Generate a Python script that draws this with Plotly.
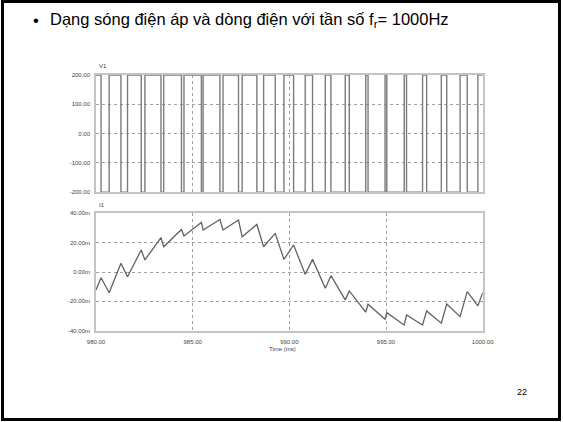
import plotly.graph_objects as go

# Switching instants of the inverter output voltage V1 (ms); level starts at +200 V
t_switch_ms = [980.26, 980.68, 981.29, 981.63, 982.34, 982.53, 983.36, 983.50,
               984.42, 984.55, 985.45, 985.54, 986.41, 986.57, 987.37, 987.56,
               988.32, 988.67, 989.27, 989.72, 990.22, 990.82, 991.20, 991.86,
               992.15, 992.89, 993.10, 993.95, 994.07, 994.95, 995.04, 995.94,
               996.06, 996.89, 997.10, 997.86, 998.14, 998.83, 999.20, 999.75]
v_high = 200.0
v_low = -200.0

# Load current I1 (mA) at the start, at each switching instant, and at the end
i1_ma = [-12.2, -3.9, -14.1, 5.9, -3.2, 15.0, 8.2, 23.4, 17.2, 29.0, 24.5,
         33.8, 28.6, 35.8, 28.6, 35.4, 24.0, 32.4, 17.2, 26.3, 8.6, 18.4,
         -1.6, 8.6, -11.1, -2.5, -19.0, -12.9, -27.4, -22.0, -32.2, -27.7,
         -36.1, -29.3, -36.1, -26.5, -34.9, -21.8, -30.4, -13.4, -23.1, -14.1]

t_start, t_end = 980.0, 1000.0
x_ticks = [980, 985, 990, 995, 1000]
x_ticktext = ["980.00", "985.00", "990.00", "995.00", "1000.00"]
v_ticks = [200, 100, 0, -100, -200]
v_ticktext = ["200.00", "100.00", "0.00", "-100.00", "-200.00"]
i_ticks = [40, 20, 0, -20, -40]
i_ticktext = ["40.00m", "20.00m", "0.00m", "-20.00m", "-40.00m"]

W, H = 563, 422


def px(x):
    return x / W


def py(y):
    return 1 - y / H


# Step waveform for the voltage
t_v = [t_start] + t_switch_ms + [t_end]
v_vals = [v_high]
level = v_high
for _ in t_switch_ms:
    level = v_low if level == v_high else v_high
    v_vals.append(level)
v_vals.append(level)

t_i = [t_start] + t_switch_ms + [t_end]

fig = go.Figure()
fig.add_trace(go.Scatter(x=t_v, y=v_vals, mode="lines", line_shape="hv",
                         line=dict(color="#7c7c7c", width=1.4),
                         xaxis="x", yaxis="y", showlegend=False))
fig.add_trace(go.Scatter(x=t_i, y=i1_ma, mode="lines",
                         line=dict(color="#626262", width=1.3),
                         xaxis="x2", yaxis="y2", showlegend=False))

axis_common = dict(showline=True, mirror=True, linecolor="#c4c4c4", linewidth=1.5,
                   showgrid=True, gridcolor="#a0a0a0", griddash="dot", gridwidth=1,
                   zeroline=False, ticks="", automargin=False,
                   tickfont=dict(family="Liberation Sans", size=6, color="#444"))

x_dom = [px(96), px(482.7)]
fig.update_layout(
    width=W, height=H,
    margin=dict(l=0, r=0, t=0, b=0, pad=0, autoexpand=False),
    paper_bgcolor="white", plot_bgcolor="white",
    xaxis=dict(domain=x_dom, range=[t_start, t_end], anchor="y",
               tickvals=x_ticks, ticktext=x_ticktext, showticklabels=False, **axis_common),
    yaxis=dict(domain=[py(192.3), py(75)], range=[-200, 200], anchor="x",
               tickvals=v_ticks, ticktext=v_ticktext, ticklabelstandoff=3, **axis_common),
    xaxis2=dict(domain=x_dom, range=[t_start, t_end], anchor="y2",
                tickvals=x_ticks, ticktext=x_ticktext, ticklabelstandoff=4, **axis_common),
    yaxis2=dict(domain=[py(330.7), py(213.3)], range=[-40, 40], anchor="x2",
                tickvals=i_ticks, ticktext=i_ticktext, ticklabelstandoff=3, **axis_common),
    shapes=[dict(type="rect", xref="paper", yref="paper",
                 x0=px(2.5), x1=px(559.5), y0=py(419.5), y1=py(1.5),
                 line=dict(color="black", width=3))],
)

small = dict(family="Liberation Sans", size=6, color="#444")
fig.add_annotation(x=px(97), y=py(66), xref="paper", yref="paper", text="V1",
                   showarrow=False, xanchor="left", yanchor="middle", font=small)
fig.add_annotation(x=px(97), y=py(205), xref="paper", yref="paper", text="I1",
                   showarrow=False, xanchor="left", yanchor="middle", font=small)
fig.add_annotation(x=px(283), y=py(349), xref="paper", yref="paper", text="Time (ms)",
                   showarrow=False, xanchor="center", yanchor="middle", font=small)

title_font = dict(family="Liberation Sans", size=16.5, color="black")
fig.add_annotation(x=px(31), y=py(20), xref="paper", yref="paper", text="•",
                   showarrow=False, xanchor="left", yanchor="middle", font=title_font)
fig.add_annotation(x=px(48), y=py(20), xref="paper", yref="paper",
                   text="Dạng sóng điện áp và dòng điện với tần số f<sub>r</sub>= 1000Hz",
                   showarrow=False, xanchor="left", yanchor="middle", font=title_font)
fig.add_annotation(x=px(522), y=py(392), xref="paper", yref="paper", text="22",
                   showarrow=False, xanchor="center", yanchor="middle",
                   font=dict(family="Liberation Sans", size=9, color="black"))

fig.write_html("out.html")
